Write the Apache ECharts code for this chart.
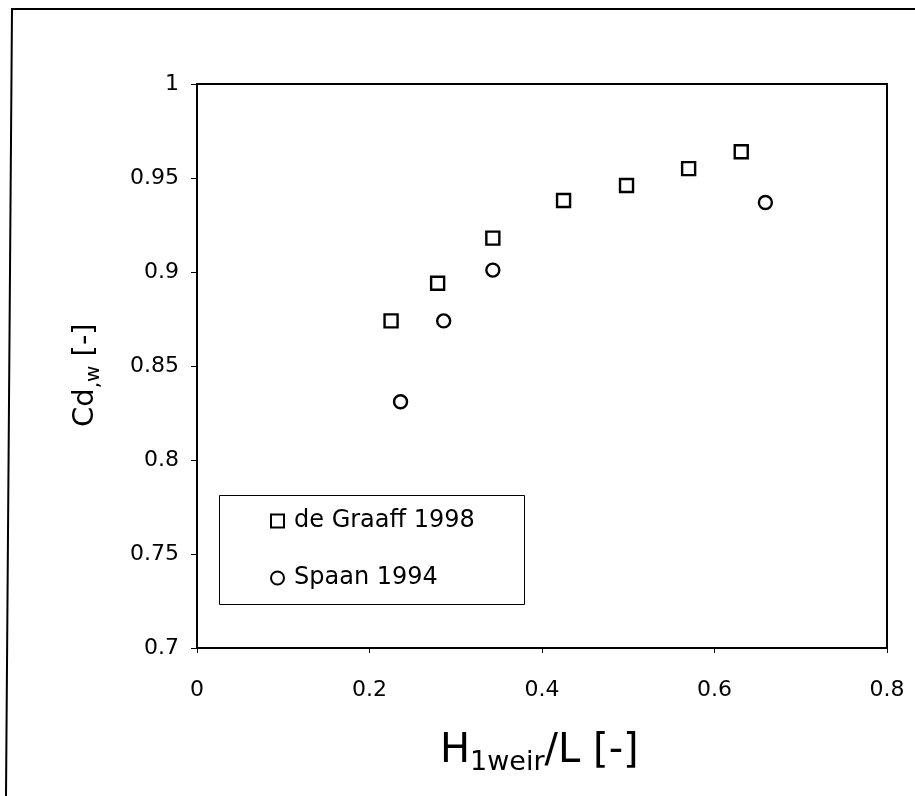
<!DOCTYPE html>
<html>
<head>
<meta charset="utf-8">
<script src="https://cdn.jsdelivr.net/npm/echarts@6/dist/echarts.min.js"></script>
<style>html,body{margin:0;padding:0;background:#fff;}#c{width:915px;height:796px;}</style>
</head>
<body>
<div id="c"></div>
<script>
const graaffX = [0.225, 0.279, 0.343, 0.425, 0.498, 0.570, 0.631];
const graaffY = [0.874, 0.894, 0.918, 0.938, 0.946, 0.955, 0.964];
const spaanX = [0.236, 0.286, 0.343, 0.659];
const spaanY = [0.831, 0.874, 0.901, 0.937];
const seriesNames = ['de Graaff 1998', 'Spaan 1994'];
const xTicks = [0, 0.2, 0.4, 0.6, 0.8];
const yTicks = [0.7, 0.75, 0.8, 0.85, 0.9, 0.95, 1];
const xTitle = ['H', '1weir', '/L [-]'];
const yTitle = ['Cd', ',w', ' [-]'];

const FONT = 'DejaVu Sans';
const mctx = document.createElement('canvas').getContext('2d');
function metr(size, text) {
  mctx.font = size + 'px "' + FONT + '"';
  mctx.textBaseline = 'middle';
  const m = mctx.measureText(text);
  return {w: m.width, d: mctx.measureText('H').actualBoundingBoxDescent};
}
// build title pieces as baseline-aligned text runs (main + subscript)
function titleRuns(parts, mainSize, subSize, subDrop, x0, baseY) {
  const out = [];
  let x = x0;
  parts.forEach((t, i) => {
    const sz = i === 1 ? subSize : mainSize;
    const m = metr(sz, t);
    const base = baseY + (i === 1 ? subDrop : 0);
    out.push({type: 'text', x: x, y: base - m.d,
      style: {text: t, font: sz + 'px "' + FONT + '"', fill: '#000', align: 'left', verticalAlign: 'middle'}});
    x += m.w;
  });
  return out;
}

const chart = echarts.init(document.getElementById('c'), null, {renderer: 'canvas'});
const pair = (xs, ys) => xs.map((x, i) => [x, ys[i]]);
chart.setOption({
  animation: false,
  backgroundColor: '#fff',
  textStyle: {fontFamily: FONT, color: '#000'},
  grid: {left: 197, right: 28, top: 84, bottom: 148, show: true, borderColor: '#000', borderWidth: 2, containLabel: false},
  xAxis: {
    type: 'value', min: xTicks[0], max: xTicks[xTicks.length - 1], interval: 0.2,
    axisLine: {show: true, lineStyle: {color: '#000', width: 2}},
    axisTick: {show: true, length: 5, lineStyle: {color: '#000', width: 1}},
    splitLine: {show: false},
    axisLabel: {fontFamily: FONT, fontSize: 22, color: '#000', margin: 31}
  },
  yAxis: {
    type: 'value', min: yTicks[0], max: yTicks[yTicks.length - 1], interval: 0.05,
    axisLine: {show: true, lineStyle: {color: '#000', width: 2}},
    axisTick: {show: true, length: 6, lineStyle: {color: '#000', width: 1}},
    splitLine: {show: false},
    axisLabel: {fontFamily: FONT, fontSize: 22, color: '#000', margin: 18}
  },
  legend: {
    orient: 'vertical', left: 270, top: 509, padding: 0,
    itemGap: 33, itemWidth: 13, itemHeight: 13,
    textStyle: {fontFamily: FONT, fontSize: 24, color: '#000', padding: [0, 0, 0, 5]},
    data: [
      {name: seriesNames[0], icon: 'rect'},
      {name: seriesNames[1], icon: 'circle'}
    ]
  },
  graphic: [
    {type: 'rect', left: 217, top: 493, shape: {width: 305, height: 109}, style: {fill: 'none', stroke: '#000', lineWidth: 1}, z: 10},
    {type: 'polyline', shape: {points: [[6, 796], [12, 9], [915, 9]]}, style: {fill: 'none', stroke: '#000', lineWidth: 2}, z: 10},
    {type: 'group', children: titleRuns(xTitle, 40, 27, 8, 440, 762)},
    {type: 'group', x: 93, y: 427, rotation: Math.PI / 2, children: titleRuns(yTitle, 29, 20, 6, 0, 0)}
  ],
  series: [
    {
      name: seriesNames[0], type: 'scatter', symbol: 'rect', symbolSize: 13,
      itemStyle: {color: '#fff', borderColor: '#000', borderWidth: 2.4, opacity: 1},
      data: pair(graaffX, graaffY)
    },
    {
      name: seriesNames[1], type: 'scatter', symbol: 'circle', symbolSize: 13,
      itemStyle: {color: '#fff', borderColor: '#000', borderWidth: 2.4, opacity: 1},
      data: pair(spaanX, spaanY)
    }
  ]
});
</script>
</body>
</html>
